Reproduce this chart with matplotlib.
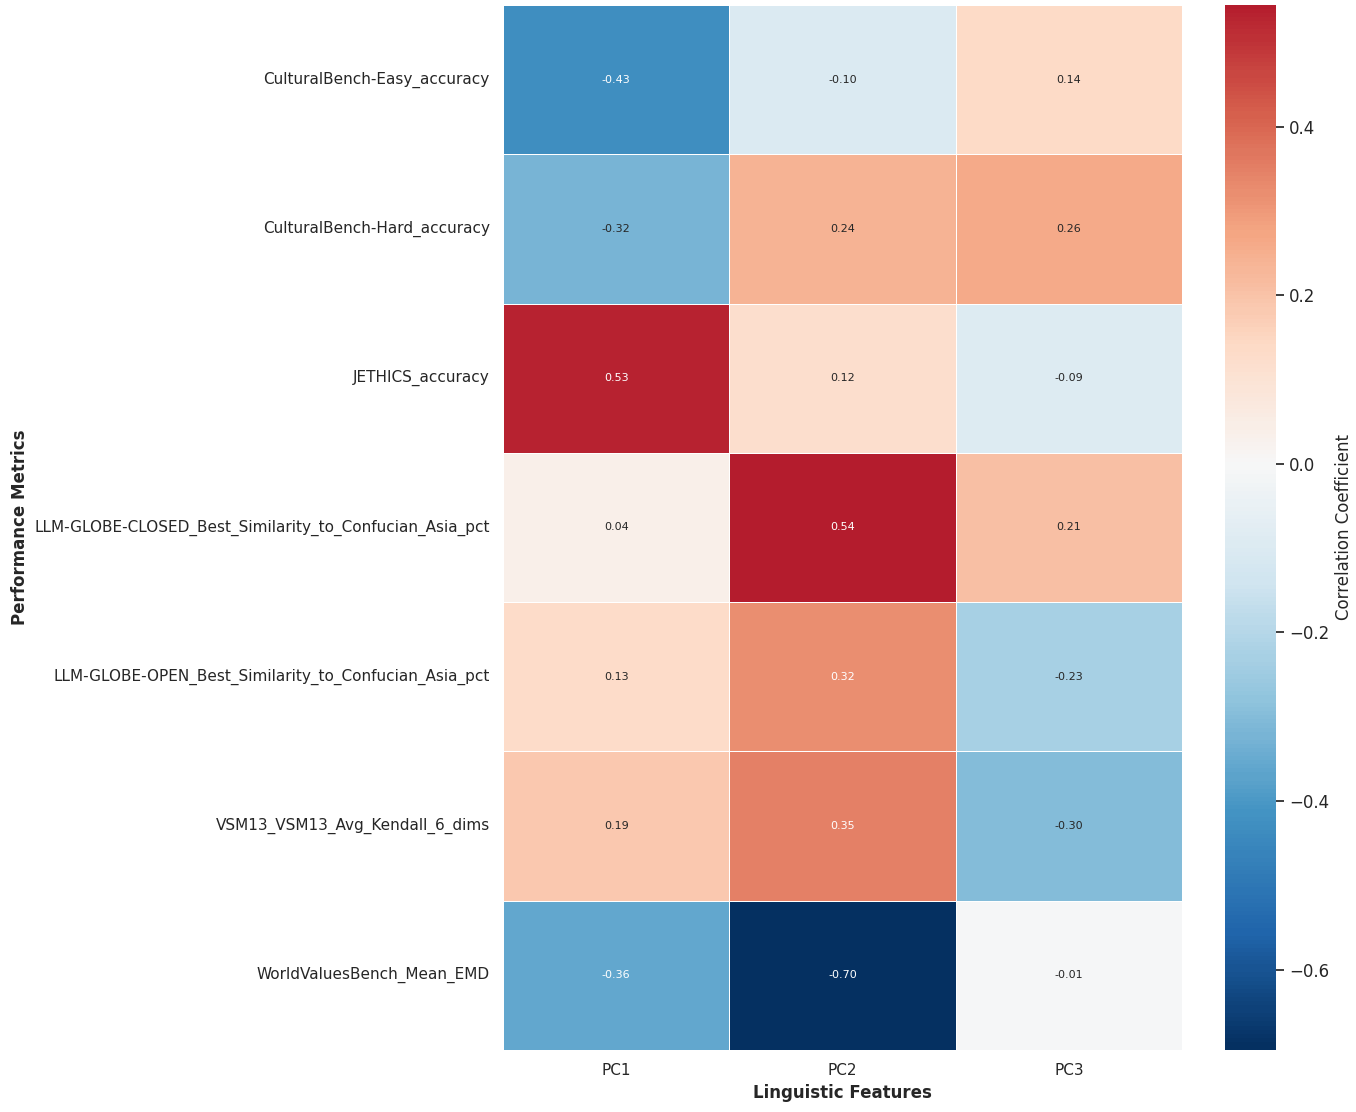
import matplotlib
matplotlib.use("Agg")
import matplotlib.pyplot as plt
import seaborn as sns
import numpy as np
import pandas as pd

metrics = [
    "CulturalBench-Easy_accuracy",
    "CulturalBench-Hard_accuracy",
    "JETHICS_accuracy",
    "LLM-GLOBE-CLOSED_Best_Similarity_to_Confucian_Asia_pct",
    "LLM-GLOBE-OPEN_Best_Similarity_to_Confucian_Asia_pct",
    "VSM13_VSM13_Avg_Kendall_6_dims",
    "WorldValuesBench_Mean_EMD",
]
features = ["PC1", "PC2", "PC3"]
pc1 = [-0.43, -0.324, 0.53, 0.04, 0.13, 0.19, -0.36]
pc2 = [-0.10, 0.24, 0.12, 0.5445, 0.32, 0.35, -0.6954]
pc3 = [0.14, 0.26, -0.09, 0.21, -0.23, -0.30, -0.01]

df = pd.DataFrame({"PC1": pc1, "PC2": pc2, "PC3": pc3}, index=metrics)

sns.set_theme(style="white")
fig = plt.figure(figsize=(13.56, 11.12), dpi=100)
ax = fig.add_axes([503/1356, 1 - 1050/1112, (1182-503)/1356, (1050-5)/1112])
cax = fig.add_axes([1225/1356, 1 - 1050/1112, (1276-1225)/1356, (1050-5)/1112])

sns.heatmap(df, ax=ax, cbar_ax=cax, cmap="RdBu_r", center=0, annot=True, fmt=".2f",
            annot_kws={"size": 8}, linewidths=0.5, linecolor="white",
            cbar_kws={"label": "Correlation Coefficient"})
ax.set_xlabel("Linguistic Features", fontsize=12, fontweight="bold")
ax.set_ylabel("Performance Metrics", fontsize=12, fontweight="bold")
ax.tick_params(axis="both", labelsize=11)
plt.setp(ax.get_yticklabels(), rotation=0)
plt.setp(ax.get_xticklabels(), rotation=0)
cax.tick_params(labelsize=12)
cax.yaxis.label.set_size(12)

fig.savefig("out.png", dpi=100)
